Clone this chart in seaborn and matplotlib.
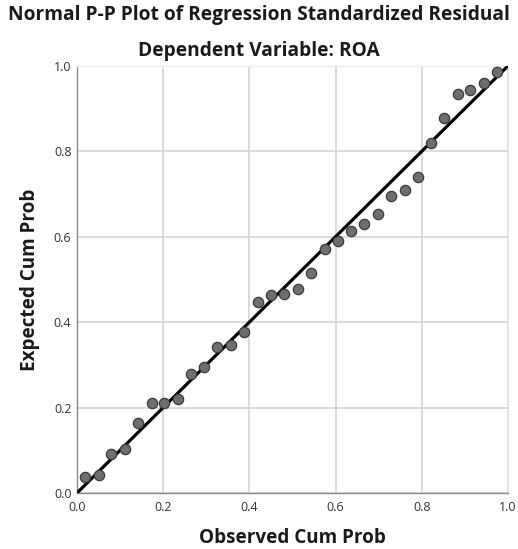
import matplotlib
matplotlib.use("Agg")
import matplotlib.pyplot as plt
import numpy as np
import pandas as pd
import seaborn as sns

# observed vs expected cumulative probabilities
observed = [0.018, 0.050, 0.080, 0.112, 0.142, 0.173, 0.203, 0.234,
            0.265, 0.295, 0.326, 0.358, 0.388, 0.419, 0.450, 0.481,
            0.513, 0.544, 0.575, 0.605, 0.636, 0.667, 0.698, 0.729,
            0.760, 0.791, 0.821, 0.851, 0.883, 0.913, 0.944, 0.975]
expected = [0.037, 0.042, 0.091, 0.102, 0.164, 0.211, 0.211, 0.221,
            0.279, 0.296, 0.341, 0.347, 0.378, 0.448, 0.464, 0.467,
            0.477, 0.514, 0.572, 0.591, 0.613, 0.629, 0.654, 0.696,
            0.710, 0.741, 0.820, 0.879, 0.934, 0.943, 0.961, 0.986]
ref_line = [0.0, 1.0]
ticks = [0.0, 0.2, 0.4, 0.6, 0.8, 1.0]
tick_labels = ["0.0", "0.2", "0.4", "0.6", "0.8", "1.0"]

df = pd.DataFrame({"obs": observed, "exp": expected})

sns.set_style("white")
plt.rcParams["font.family"] = ["Open Sans", "DejaVu Sans"]

fig = plt.figure(figsize=(5.18, 5.49), dpi=100)
ax = fig.add_axes([0.1486, 0.102, 0.832, 0.778])

ax.grid(True, color="#d4d4d4", linewidth=1.2)
ax.set_axisbelow(True)
sns.lineplot(x=ref_line, y=ref_line, ax=ax, color="black", linewidth=2.3,
             zorder=3)
sns.scatterplot(data=df, x="obs", y="exp", ax=ax, s=55, color="#6e6e6e",
                edgecolor="#3a3a3a", linewidth=0.9, zorder=4, clip_on=False)

ax.set_xlim(0, 1)
ax.set_ylim(0, 1)
ax.set_xticks(ticks)
ax.set_xticklabels(tick_labels)
ax.set_yticks(ticks)
ax.set_yticklabels(tick_labels)
ax.tick_params(length=0, labelsize=9, colors="#333333")
ax.tick_params(axis="x", pad=6)
ax.tick_params(axis="y", pad=4)

for side in ["left", "bottom"]:
    ax.spines[side].set_color("#8a8a8a")
    ax.spines[side].set_linewidth(1.0)
for side in ["top", "right"]:
    ax.spines[side].set_color("#ececec")
    ax.spines[side].set_linewidth(1.0)

ax.set_xlabel("Observed Cum Prob", fontsize=13.6, fontweight="bold",
              color="#1a1a1a", labelpad=10)
ax.set_ylabel("Expected Cum Prob", fontsize=13.6, fontweight="bold",
              color="#1a1a1a", labelpad=10)

fig.text(0.5, 0.973, "Normal P-P Plot of Regression Standardized Residual",
         ha="center", va="center", fontsize=13.8, fontweight="bold",
         color="#1a1a1a")
fig.text(0.5, 0.908, "Dependent Variable: ROA", ha="center", va="center",
         fontsize=13.8, fontweight="bold", color="#1a1a1a")

fig.savefig("out.png", dpi=100)
